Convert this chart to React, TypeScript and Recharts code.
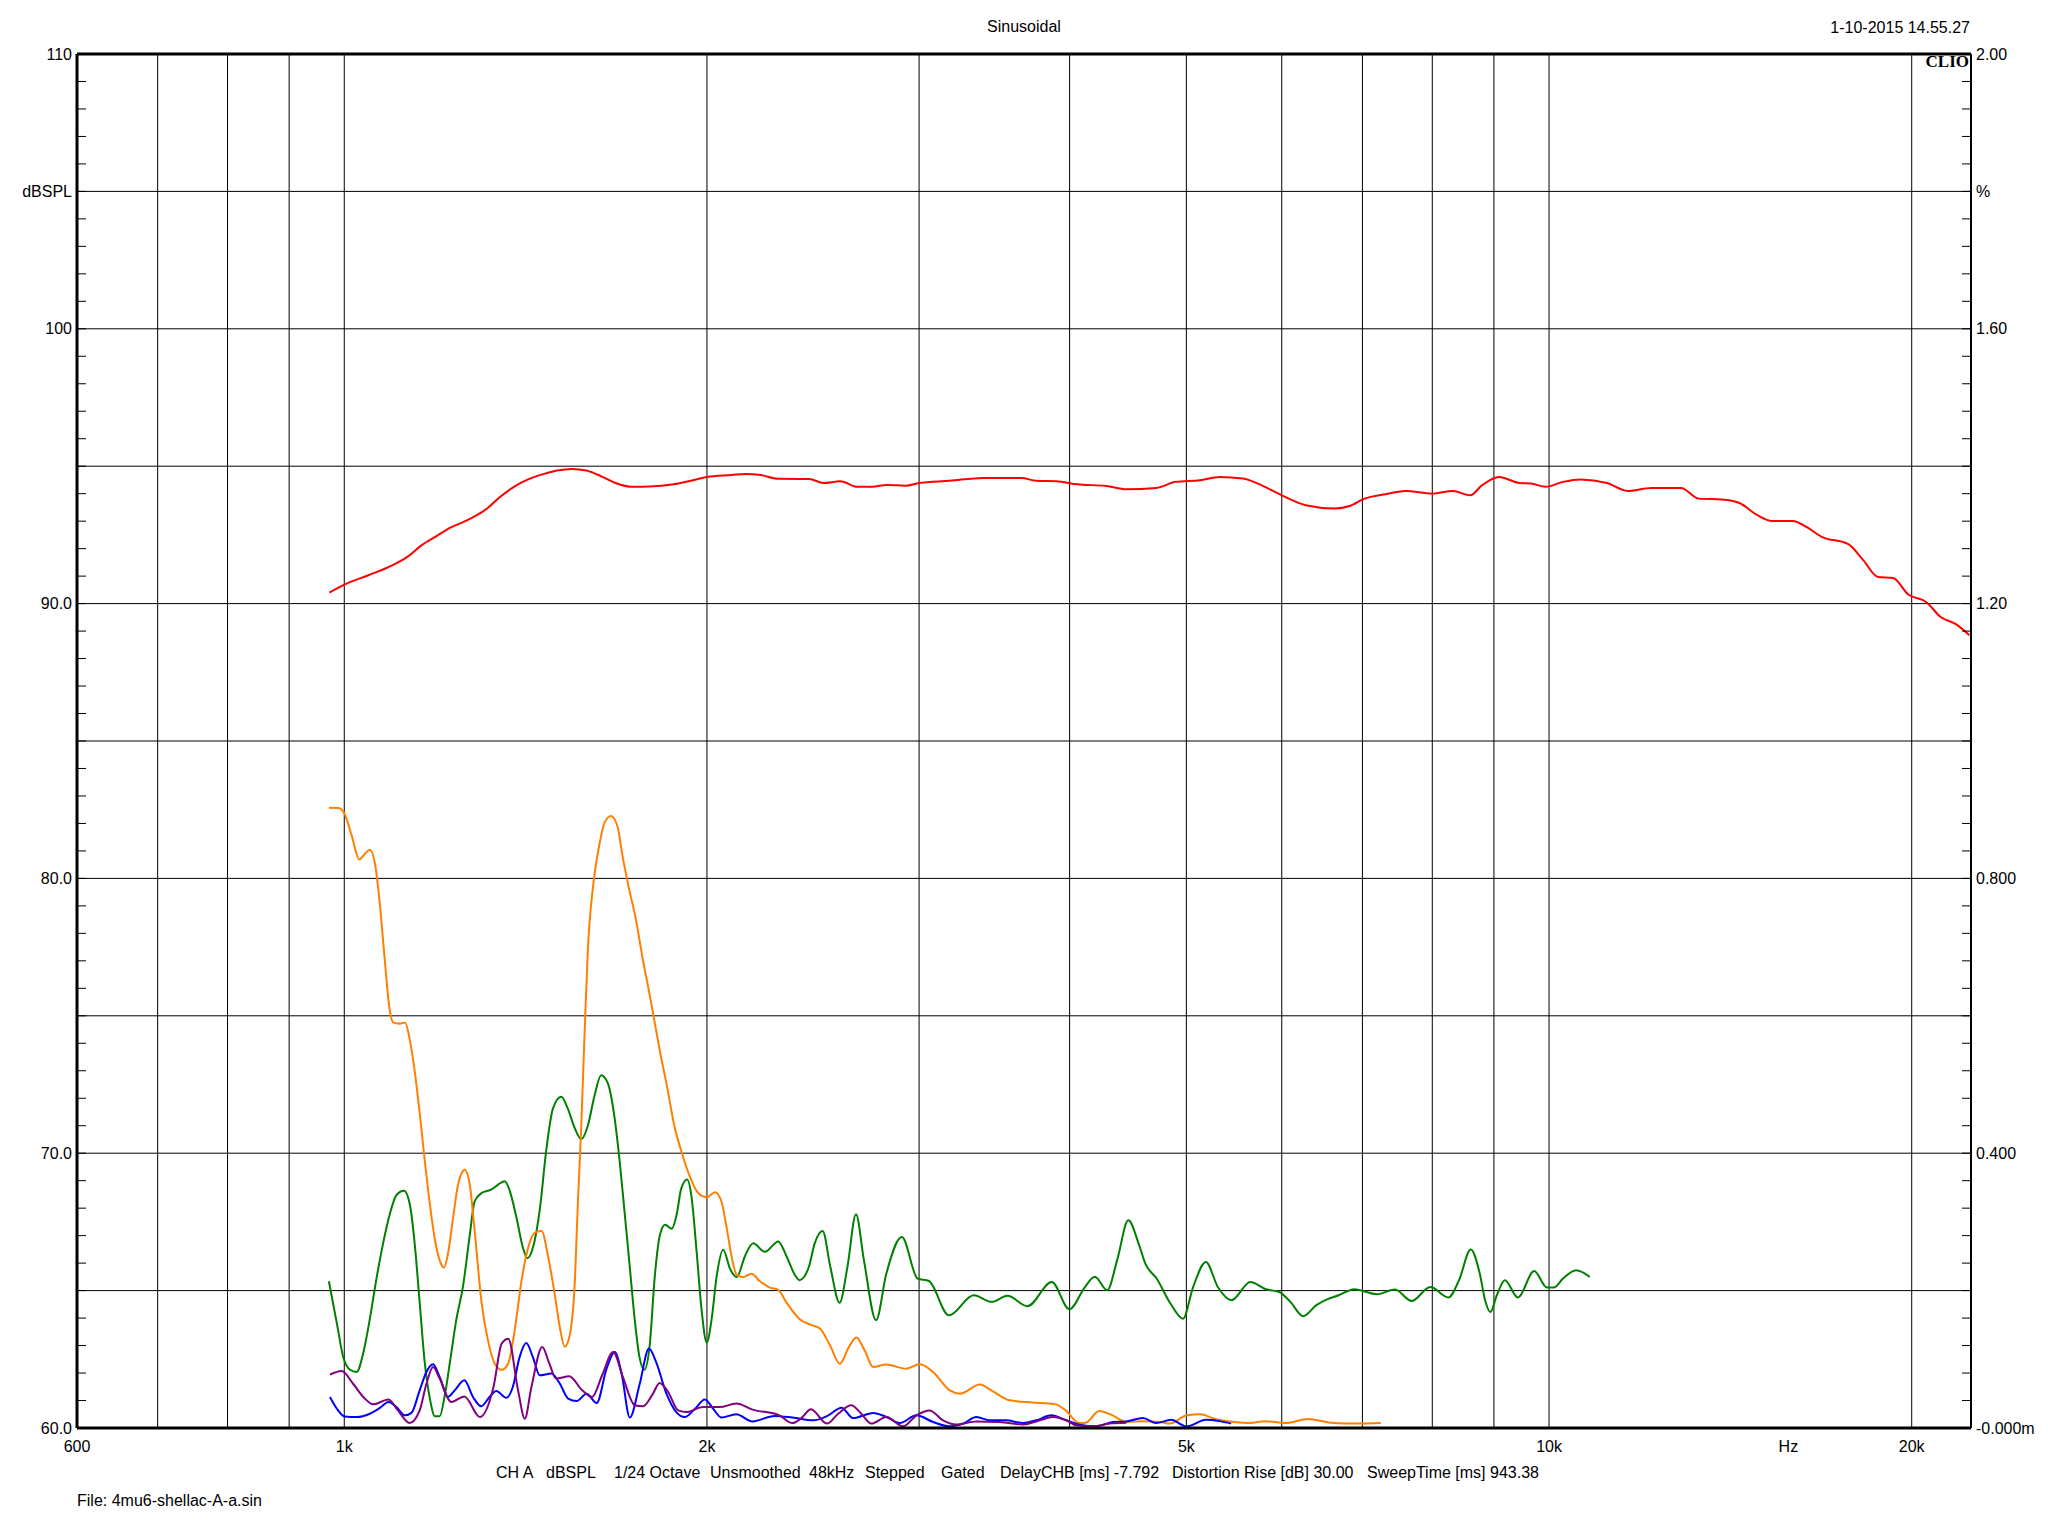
import React from 'react';
import { LineChart, Line, XAxis, YAxis, CartesianGrid, ReferenceLine } from 'recharts';

// [frequency Hz, level dBSPL]
const response: [number, number][] = [
  [972, 90.40], [1000, 90.69], [1047, 91.03], [1097, 91.40], [1128, 91.70], [1159, 92.12], [1192, 92.45],
  [1226, 92.77], [1260, 93.00], [1284, 93.18], [1314, 93.46], [1345, 93.86], [1383, 94.25], [1421, 94.52],
  [1468, 94.73], [1502, 94.84], [1545, 94.90], [1588, 94.84], [1633, 94.64], [1679, 94.39], [1734, 94.25],
  [1791, 94.26], [1876, 94.34], [1947, 94.49], [2000, 94.61], [2096, 94.68], [2155, 94.72], [2216, 94.68],
  [2290, 94.54], [2432, 94.53], [2499, 94.39], [2581, 94.45], [2667, 94.25], [2743, 94.25], [2820, 94.32],
  [2925, 94.29], [3000, 94.39], [3180, 94.47], [3390, 94.57], [3650, 94.57], [3750, 94.47], [3900, 94.45],
  [4060, 94.34], [4290, 94.28], [4460, 94.16], [4720, 94.21], [4900, 94.43], [5130, 94.49], [5330, 94.61],
  [5570, 94.55], [5770, 94.31], [6000, 93.94], [6280, 93.58], [6640, 93.46], [6830, 93.55], [7030, 93.82],
  [7350, 94.00], [7600, 94.10], [8000, 94.00], [8320, 94.10], [8600, 93.94], [8800, 94.31], [9090, 94.61],
  [9450, 94.39], [9660, 94.37], [9940, 94.25], [10270, 94.43], [10620, 94.52], [11170, 94.39], [11620, 94.10],
  [12160, 94.21], [12870, 94.21], [13310, 93.82], [13920, 93.79], [14390, 93.66], [14890, 93.22], [15310, 93.01],
  [15930, 93.01], [16380, 92.77], [16840, 92.43], [17720, 92.16], [18230, 91.58], [18750, 90.97], [19300, 90.93],
  [19870, 90.33], [20560, 90.06], [21140, 89.51], [21760, 89.25], [22330, 88.85],
];

const orange: [number, number][] = [
  [971, 82.57], [989, 82.56], [1000, 82.37], [1014, 81.58], [1029, 80.69], [1040, 80.89], [1050, 81.04],
  [1060, 80.58], [1070, 79.13], [1080, 77.13], [1090, 75.30], [1098, 74.76], [1112, 74.71], [1123, 74.76],
  [1134, 74.07], [1144, 73.00], [1155, 71.47], [1166, 69.78], [1178, 68.10], [1189, 66.87], [1200, 66.10],
  [1210, 65.84], [1220, 66.41], [1231, 67.64], [1243, 68.86], [1259, 69.40], [1271, 68.86], [1283, 67.17],
  [1300, 64.57], [1316, 63.19], [1333, 62.35], [1351, 62.12], [1368, 62.35], [1386, 63.65], [1403, 65.34],
  [1421, 66.56], [1439, 67.10], [1458, 67.17], [1476, 66.26], [1495, 64.88], [1510, 63.65], [1524, 62.96],
  [1538, 63.34], [1553, 65.18], [1563, 68.25], [1573, 71.01], [1583, 74.38], [1593, 77.44], [1609, 79.74],
  [1629, 81.27], [1645, 82.04], [1665, 82.27], [1686, 81.88], [1702, 80.81], [1724, 79.59], [1746, 78.51],
  [1768, 77.13], [1790, 75.91], [1806, 74.99], [1830, 73.61], [1854, 72.38], [1879, 71.00], [1904, 70.09],
  [1935, 69.17], [1967, 68.55], [1999, 68.40], [2031, 68.58], [2056, 68.25], [2076, 67.33], [2096, 66.26],
  [2117, 65.57], [2143, 65.49], [2178, 65.61], [2213, 65.34], [2256, 65.11], [2292, 65.03], [2328, 64.57],
  [2388, 63.96], [2440, 63.75], [2482, 63.62], [2530, 63.01], [2579, 62.34], [2620, 62.90], [2661, 63.29],
  [2705, 62.80], [2747, 62.22], [2816, 62.31], [2928, 62.16], [3004, 62.32], [3081, 62.04], [3181, 61.37],
  [3244, 61.25], [3369, 61.58], [3455, 61.33], [3566, 61.01], [3727, 60.93], [3896, 60.86], [3970, 60.64],
  [4073, 60.18], [4125, 60.19], [4232, 60.62], [4343, 60.46], [4457, 60.22], [4601, 60.25], [4751, 60.22],
  [4844, 60.16], [5004, 60.46], [5136, 60.50], [5272, 60.34], [5481, 60.22], [5650, 60.18], [5810, 60.25],
  [6050, 60.18], [6300, 60.33], [6630, 60.18], [6920, 60.16], [7250, 60.18],
];

const green: [number, number][] = [
  [971, 65.34], [986, 63.80], [998, 62.58], [1011, 62.12], [1024, 62.04], [1037, 62.73], [1050, 63.96],
  [1064, 65.49], [1077, 66.72], [1091, 67.79], [1105, 68.48], [1121, 68.63], [1134, 68.09], [1144, 66.72],
  [1155, 64.57], [1166, 62.42], [1178, 61.05], [1189, 60.43], [1200, 60.43], [1212, 61.20], [1224, 62.42],
  [1239, 63.96], [1255, 65.18], [1271, 67.02], [1283, 68.25], [1300, 68.55], [1325, 68.68], [1342, 68.86],
  [1359, 68.98], [1372, 68.63], [1390, 67.64], [1407, 66.56], [1419, 66.18], [1434, 66.56], [1453, 67.94],
  [1471, 70.09], [1490, 71.62], [1514, 72.05], [1533, 71.62], [1553, 70.93], [1573, 70.51], [1593, 71.01],
  [1613, 72.08], [1634, 72.84], [1655, 72.54], [1676, 71.31], [1692, 69.78], [1708, 67.94], [1725, 65.95],
  [1742, 63.96], [1758, 62.58], [1775, 62.12], [1793, 63.04], [1810, 65.49], [1828, 67.02], [1846, 67.40],
  [1870, 67.25], [1888, 67.79], [1904, 68.71], [1926, 69.04], [1942, 68.40], [1961, 66.41], [1980, 64.26],
  [1999, 63.11], [2018, 63.96], [2037, 65.49], [2063, 66.49], [2090, 65.80], [2117, 65.49], [2151, 66.26],
  [2185, 66.72], [2234, 66.41], [2292, 66.79], [2328, 66.26], [2366, 65.57], [2387, 65.38], [2430, 65.86],
  [2457, 66.71], [2495, 67.17], [2532, 65.86], [2577, 64.56], [2616, 65.86], [2659, 67.78], [2700, 66.10],
  [2763, 63.92], [2818, 65.62], [2903, 66.95], [2991, 65.44], [3057, 65.35], [3176, 64.10], [3330, 64.83],
  [3447, 64.59], [3552, 64.81], [3690, 64.43], [3866, 65.31], [3998, 64.32], [4119, 65.13], [4197, 65.50],
  [4298, 65.01], [4380, 66.10], [4475, 67.56], [4564, 66.71], [4623, 65.98], [4724, 65.44], [4850, 64.53],
  [4968, 63.98], [5065, 65.13], [5190, 66.04], [5310, 65.13], [5450, 64.65], [5650, 65.31], [5820, 65.05],
  [5970, 64.95], [6100, 64.59], [6250, 64.07], [6410, 64.47], [6550, 64.69], [6690, 64.83], [6890, 65.05],
  [7200, 64.87], [7450, 65.04], [7690, 64.62], [7970, 65.13], [8250, 64.75], [8420, 65.38], [8610, 66.50],
  [8760, 65.62], [8850, 64.65], [8940, 64.22], [9050, 64.83], [9190, 65.38], [9420, 64.75], [9720, 65.71],
  [9960, 65.11], [10090, 65.11], [10270, 65.44], [10530, 65.74], [10810, 65.50],
];

const blue: [number, number][] = [
  [973, 61.13], [986, 60.70], [1001, 60.42], [1024, 60.40], [1050, 60.52], [1071, 60.74], [1088, 60.95],
  [1105, 60.76], [1123, 60.46], [1137, 60.55], [1155, 61.37], [1170, 62.04], [1185, 62.32], [1200, 61.86],
  [1219, 61.13], [1235, 61.37], [1258, 61.74], [1279, 61.13], [1299, 60.79], [1320, 61.13], [1337, 61.35],
  [1363, 61.10], [1380, 61.49], [1398, 62.58], [1416, 63.09], [1434, 62.58], [1453, 61.92], [1486, 61.98],
  [1510, 61.61], [1534, 61.07], [1559, 60.98], [1589, 61.25], [1620, 60.91], [1651, 62.16], [1677, 62.77],
  [1699, 61.98], [1726, 60.38], [1759, 61.61], [1790, 62.89], [1815, 62.40], [1851, 61.25], [1886, 60.58],
  [1917, 60.40], [1955, 60.70], [1992, 61.04], [2024, 60.70], [2056, 60.38], [2115, 60.50], [2182, 60.24],
  [2275, 60.44], [2355, 60.38], [2451, 60.28], [2520, 60.45], [2587, 60.74], [2644, 60.36], [2748, 60.55],
  [2819, 60.40], [2891, 60.18], [2985, 60.46], [3081, 60.22], [3181, 60.06], [3263, 60.16], [3347, 60.40],
  [3433, 60.28], [3544, 60.28], [3659, 60.18], [3753, 60.28], [3862, 60.46], [3975, 60.28], [4077, 60.12],
  [4209, 60.06], [4345, 60.22], [4457, 60.24], [4602, 60.36], [4720, 60.18], [4857, 60.30], [4999, 60.06],
  [5193, 60.30], [5327, 60.25], [5447, 60.16],
];

const purple: [number, number][] = [
  [973, 61.94], [995, 62.07], [1017, 61.61], [1037, 61.13], [1057, 60.86], [1088, 61.04], [1108, 60.64],
  [1133, 60.18], [1155, 60.64], [1170, 61.61], [1185, 62.22], [1200, 61.80], [1227, 60.95], [1258, 61.15],
  [1296, 60.40], [1330, 61.49], [1351, 63.07], [1368, 63.25], [1394, 61.37], [1412, 60.34], [1430, 61.49],
  [1460, 62.95], [1480, 62.34], [1499, 61.80], [1537, 61.88], [1576, 61.37], [1606, 61.13], [1637, 61.92],
  [1672, 62.77], [1703, 61.86], [1742, 60.83], [1770, 60.79], [1804, 61.25], [1827, 61.64], [1857, 61.31],
  [1893, 60.64], [1923, 60.58], [1985, 60.76], [2049, 60.76], [2115, 60.89], [2182, 60.67], [2297, 60.46],
  [2355, 60.18], [2393, 60.34], [2440, 60.68], [2515, 60.16], [2570, 60.52], [2636, 60.83], [2686, 60.52],
  [2738, 60.16], [2819, 60.40], [2910, 60.06], [2985, 60.46], [3061, 60.64], [3140, 60.28], [3220, 60.13],
  [3347, 60.24], [3500, 60.22], [3659, 60.13], [3779, 60.28], [3874, 60.40], [3975, 60.28], [4051, 60.10],
  [4182, 60.06], [4317, 60.16], [4457, 60.19],
];

// axes
const xTicks = [600, 700, 800, 900, 1000, 2000, 3000, 4000, 5000, 6000, 7000, 8000, 9000, 10000, 15800, 20000];
const xLabels: Record<number, string> = { 600: '600', 1000: '1k', 2000: '2k', 5000: '5k', 10000: '10k', 15800: 'Hz', 20000: '20k' };
const xGrid = [700, 800, 900, 1000, 2000, 3000, 4000, 5000, 6000, 7000, 8000, 9000, 10000, 20000];

const dbGrid = [60, 65, 70, 75, 80, 85, 90, 95, 100, 105, 110];
// one tick per dB on the left scale, labels on the 10 dB lines
const dbTicks = Array.from({ length: 51 }, (_, i) => 60 + i);
const dbLabels: Record<number, string> = { 60: '60.0', 70: '70.0', 80: '80.0', 90: '90.0', 100: '100', 105: 'dBSPL', 110: '110' };

// right scale 0..2 %, same spacing (0.04 per dB step)
const pctTicks = Array.from({ length: 51 }, (_, i) => i * 0.04);
const pctLabels: Record<number, string> = { 0: '-0.000m', 10: '0.400', 20: '0.800', 30: '1.20', 40: '1.60', 45: '%', 50: '2.00' };

const infoItems: [string, number][] = [
  ['CH A', 496], ['dBSPL', 546], ['1/24 Octave', 614], ['Unsmoothed', 710], ['48kHz', 809],
  ['Stepped', 865], ['Gated', 941], ['DelayCHB [ms] -7.792', 1000],
  ['Distortion Rise [dB] 30.00', 1172], ['SweepTime [ms] 943.38', 1367],
];

const toPoints = (pairs: [number, number][]) => pairs.map(([f, db]) => ({ f, db }));

const FONT = '"Liberation Sans", Arial, sans-serif';
const MINOR = 9;

const LeftTick = (props: any) => {
  const { x, y, payload } = props;
  const label = dbLabels[payload.value];
  return (
    <g>
      <line x1={x + 5} x2={x + 5 + MINOR} y1={y} y2={y} stroke="#000" strokeWidth={1} />
      {label && (
        <text x={x} y={y} textAnchor="end" dominantBaseline="central" fontFamily={FONT} fontSize={16} fill="#000">
          {label}
        </text>
      )}
    </g>
  );
};

const RightTick = (props: any) => {
  const { x, y, index } = props;
  const label = pctLabels[index];
  return (
    <g>
      <line x1={x - 5} x2={x - 5 - MINOR} y1={y} y2={y} stroke="#000" strokeWidth={1} />
      {label && (
        <text x={x} y={y} textAnchor="start" dominantBaseline="central" fontFamily={FONT} fontSize={16} fill="#000">
          {label}
        </text>
      )}
    </g>
  );
};

const BottomTick = (props: any) => {
  const { x, y, payload } = props;
  return (
    <text x={x} y={y + 18} textAnchor="middle" dominantBaseline="central" fontFamily={FONT} fontSize={16} fill="#000">
      {xLabels[payload.value] || ''}
    </text>
  );
};

const txt: React.CSSProperties = { position: 'absolute', fontFamily: FONT, fontSize: 16, lineHeight: '18px', color: '#000', whiteSpace: 'nowrap' };

export default function App() {
  return (
    <div style={{ position: 'absolute', left: 0, top: 0, width: 2048, height: 1536, background: '#fff' }}>
      <LineChart width={2048} height={1536} margin={{ top: 54, left: 7, right: 7, bottom: 68 }}>
        <CartesianGrid yAxisId="db" stroke="#000" strokeWidth={1} horizontalValues={dbGrid} verticalValues={xGrid} />
        <XAxis
          dataKey="f" type="number" scale="log" domain={[600, 22400]} allowDataOverflow
          ticks={xTicks} interval={0} height={40} tickSize={0} tickMargin={0} tickLine={false}
          axisLine={{ stroke: '#000', strokeWidth: 3 }} tick={<BottomTick />}
        />
        <YAxis
          yAxisId="db" domain={[60, 110]} allowDataOverflow ticks={dbTicks} interval={0} width={70}
          tickSize={0} tickMargin={5} tickLine={false} axisLine={{ stroke: '#000', strokeWidth: 3 }} tick={<LeftTick />}
        />
        <YAxis
          yAxisId="pct" orientation="right" type="number" domain={[0, 2]} allowDataOverflow ticks={pctTicks} interval={0} width={70}
          tickSize={0} tickMargin={5} tickLine={false} axisLine={{ stroke: '#000', strokeWidth: 2 }} tick={<RightTick />}
        />
        <ReferenceLine yAxisId="db" y={110} stroke="#000" strokeWidth={3} />

        <Line yAxisId="db" data={toPoints(green)} dataKey="db" type="monotone" stroke="#008000" strokeWidth={2} dot={false} isAnimationActive={false} />
        <Line yAxisId="db" data={toPoints(orange)} dataKey="db" type="monotone" stroke="#FF8000" strokeWidth={2} dot={false} isAnimationActive={false} />
        <Line yAxisId="db" data={toPoints(blue)} dataKey="db" type="monotone" stroke="#0000FF" strokeWidth={2} dot={false} isAnimationActive={false} />
        <Line yAxisId="db" data={toPoints(purple)} dataKey="db" type="monotone" stroke="#800080" strokeWidth={2} dot={false} isAnimationActive={false} />
        <Line yAxisId="db" data={toPoints(response)} dataKey="db" type="monotone" stroke="#FF0000" strokeWidth={2} dot={false} isAnimationActive={false} />
      </LineChart>

      <div style={{ ...txt, left: 0, width: 2048, top: 18, textAlign: 'center' }}>Sinusoidal</div>
      <div style={{ ...txt, right: 2048 - 1970, top: 19 }}>1-10-2015 14.55.27</div>
      <div style={{ ...txt, right: 2048 - 1969, top: 52, fontFamily: '"Liberation Serif", serif', fontWeight: 'bold', fontSize: 17, lineHeight: '20px' }}>CLIO</div>
      {infoItems.map(([label, x]) => (
        <div key={label} style={{ ...txt, left: x, top: 1464 }}>{label}</div>
      ))}
      <div style={{ ...txt, left: 77, top: 1492 }}>File: 4mu6-shellac-A-a.sin</div>
    </div>
  );
}
